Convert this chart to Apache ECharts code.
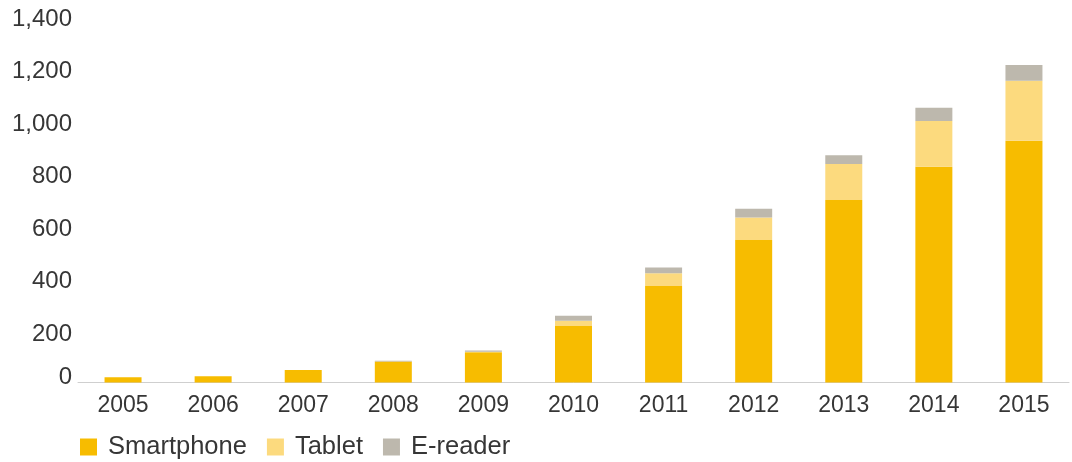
<!DOCTYPE html>
<html>
<head>
<meta charset="utf-8">
<script src="https://cdn.jsdelivr.net/npm/echarts@6/dist/echarts.min.js"></script>
<style>
  html, body { margin: 0; padding: 0; background: #fff; }
  #main { width: 1072px; height: 462px; }
</style>
</head>
<body>
<div id="main"></div>
<script>
// data
var years = ['2005', '2006', '2007', '2008', '2009', '2010', '2011', '2012', '2013', '2014', '2015'];
var smartphone = [20, 24, 48, 80, 115, 215, 368, 543, 695, 822, 921];
var tablet = [0, 0, 0, 0, 2, 20, 48, 86, 137, 174, 229];
var ereader = [0, 0, 0, 3, 5, 19, 22, 33, 34, 51, 60];

var textColor = '#363636';
var fontFam = '"Liberation Sans", Arial, sans-serif';

var option = {
    animation: false,
    color: ['#F7BC00', '#FCDA7E', '#BDB8AD'],
    legend: {
        left: 75,
        top: 429,
        itemWidth: 17,
        itemHeight: 17,
        itemGap: 20,
        icon: 'rect',
        textStyle: { color: textColor, fontSize: 25.5, fontFamily: fontFam, padding: [0, 0, 0, 6] },
        data: ['Smartphone', 'Tablet', 'E-reader']
    },
    grid: {
        left: 78,
        right: 3,
        top: 15,
        bottom: 79.5,
        outerBoundsMode: 'none'
    },
    xAxis: {
        type: 'category',
        data: years,
        axisLine: { lineStyle: { color: '#cfcfcf', width: 1 } },
        axisTick: { show: false },
        axisLabel: { color: textColor, fontSize: 23, fontFamily: fontFam, margin: 12 }
    },
    yAxis: {
        type: 'value',
        min: 0,
        max: 1400,
        interval: 200,
        splitLine: { show: false },
        axisLine: { show: false },
        axisTick: { show: false },
        axisLabel: {
            color: textColor, fontSize: 24, fontFamily: fontFam, margin: 6,
            padding: [8, 0, 0, 0],
            formatter: function (v) {
                return v === 0 ? '{z|0}' : v.toLocaleString('en-US');
            },
            rich: {
                z: { color: textColor, fontSize: 24, fontFamily: fontFam, padding: [0, 0, 19, 0] }
            }
        }
    },
    series: [
        { name: 'Smartphone', type: 'bar', stack: 'all', barWidth: 37, data: smartphone },
        { name: 'Tablet', type: 'bar', stack: 'all', barWidth: 37, data: tablet },
        { name: 'E-reader', type: 'bar', stack: 'all', barWidth: 37, data: ereader }
    ]
};

var myChart = echarts.init(document.getElementById('main'));
myChart.setOption(option);
</script>
</body>
</html>
